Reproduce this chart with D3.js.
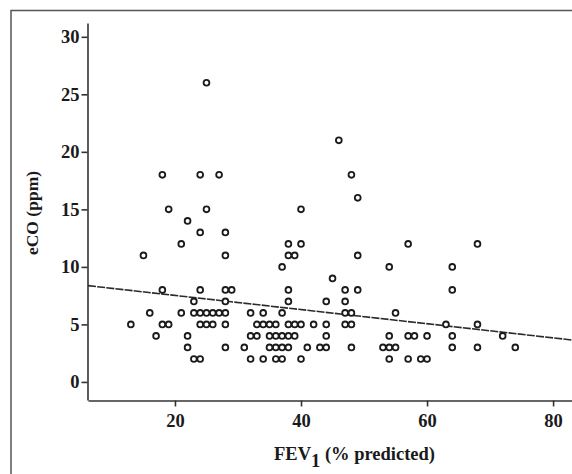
<!DOCTYPE html>
<html>
<head>
<meta charset="utf-8">
<script src="https://cdn.jsdelivr.net/npm/d3@7"></script>
<style>
  html, body { margin: 0; padding: 0; background: #fff; }
  svg { display: block; }
  text { font-family: "Liberation Serif", "Times New Roman", serif; font-weight: bold; fill: #1a1a1a; }
</style>
</head>
<body>
<svg id="chart" width="572" height="474"></svg>
<script>
// FEV1 (% predicted) values
const fev1 = [
  13, 15, 16, 17,
  18, 18, 18,
  19, 19,
  21, 21,
  22, 22, 22,
  23, 23, 23,
  24, 24, 24, 24, 24, 24,
  25, 25, 25, 25,
  26, 26,
  27, 27,
  28, 28, 28, 28, 28, 28, 28,
  29, 31,
  32, 32, 32,
  33, 33,
  34, 34, 34,
  35, 35, 35,
  36, 36, 36, 36,
  37, 37, 37, 37, 37,
  38, 38, 38, 38, 38, 38, 38,
  39, 39, 39,
  40, 40, 40, 40,
  41, 42, 43,
  44, 44, 44, 44,
  45, 46,
  47, 47, 47, 47,
  48, 48, 48, 48,
  49, 49, 49,
  53,
  54, 54, 54, 54,
  55, 55,
  57, 57, 57,
  58, 59,
  60, 60,
  63,
  64, 64, 64, 64,
  68, 68, 68,
  72, 74
];
// eCO (ppm) values
const eco = [
  5, 11, 6, 4,
  18, 8, 5,
  15, 5,
  12, 6,
  14, 4, 3,
  7, 6, 2,
  18, 13, 8, 6, 5, 2,
  26, 15, 6, 5,
  6, 5,
  18, 6,
  13, 11, 8, 7, 6, 5, 3,
  8, 3,
  6, 4, 2,
  5, 4,
  6, 5, 2,
  5, 4, 3,
  5, 4, 3, 2,
  10, 6, 4, 3, 2,
  12, 11, 8, 7, 5, 4, 3,
  11, 5, 4,
  15, 12, 5, 2,
  3, 5, 3,
  7, 5, 4, 3,
  9, 21,
  8, 7, 6, 5,
  18, 6, 5, 3,
  16, 11, 8,
  3,
  10, 4, 3, 2,
  6, 3,
  12, 4, 2,
  4, 2,
  4, 2,
  5,
  10, 8, 4, 3,
  12, 5, 3,
  4, 3
];
const xTicks = [20, 40, 60, 80];
const yTicks = [0, 5, 10, 15, 20, 25, 30];
// fit line
const fitIntercept = 8.75;
const fitSlope = -0.0615;

const svg = d3.select("#chart");

// outer frame
svg.append("rect")
  .attr("x", 11).attr("y", 10.5)
  .attr("width", 600).attr("height", 500)
  .attr("fill", "none").attr("stroke", "#555").attr("stroke-width", 1.5);

const x = d3.scaleLinear().domain([6.2, 83.0]).range([88, 572]);
const y = d3.scaleLinear().domain([-1.57, 31.2]).range([400, 23]);

// axes
const xAxis = d3.axisBottom(x).tickValues(xTicks).tickSize(6).tickSizeOuter(0).tickFormat(d3.format("d"));
const gx = svg.append("g").attr("transform", "translate(0,400.5)").call(xAxis);
gx.select(".domain").attr("stroke", "#333").attr("stroke-width", 1.6);
gx.selectAll(".tick line").attr("stroke", "#333").attr("stroke-width", 1.6);
gx.selectAll(".tick text").attr("font-size", 18.5).attr("dy", "0.95em")
  .attr("font-family", "Liberation Serif").attr("font-weight", "bold").attr("fill", "#1a1a1a");

const yAxis = d3.axisLeft(y).tickValues(yTicks).tickSize(6).tickSizeOuter(0).tickFormat(d3.format("d"));
const gy = svg.append("g").attr("transform", "translate(87.5,0)").call(yAxis);
gy.select(".domain").attr("stroke", "#333").attr("stroke-width", 1.6);
gy.selectAll(".tick line").attr("stroke", "#333").attr("stroke-width", 1.6);
gy.selectAll(".tick text").attr("font-size", 18.5).attr("x", -8)
  .attr("font-family", "Liberation Serif").attr("font-weight", "bold").attr("fill", "#1a1a1a");

// fit line
const x0 = x.domain()[0], x1 = x.domain()[1];
svg.append("line")
  .attr("x1", x(x0)).attr("y1", y(fitIntercept + fitSlope * x0))
  .attr("x2", x(x1)).attr("y2", y(fitIntercept + fitSlope * x1))
  .attr("stroke", "#2a2a2a").attr("stroke-width", 1.6)
  .attr("stroke-dasharray", "8,1.2");

// points
svg.append("g").selectAll("circle")
  .data(fev1.map((v, i) => [v, eco[i]]))
  .join("circle")
  .attr("cx", d => x(d[0]))
  .attr("cy", d => y(d[1]))
  .attr("r", 2.9)
  .attr("fill", "#fff")
  .attr("stroke", "#1a1a1a")
  .attr("stroke-width", 1.8);

// axis titles
svg.append("text")
  .attr("transform", "translate(38,213) rotate(-90)")
  .attr("text-anchor", "middle")
  .attr("font-size", 17.5)
  .text("eCO (ppm)");

const xt = svg.append("text")
  .attr("x", 274).attr("y", 460)
  .attr("font-size", 18.5);
xt.append("tspan").text("FEV");
xt.append("tspan").attr("dy", 7).text("1");
xt.append("tspan").attr("dy", -7).text(" (% predicted)");
</script>
</body>
</html>
